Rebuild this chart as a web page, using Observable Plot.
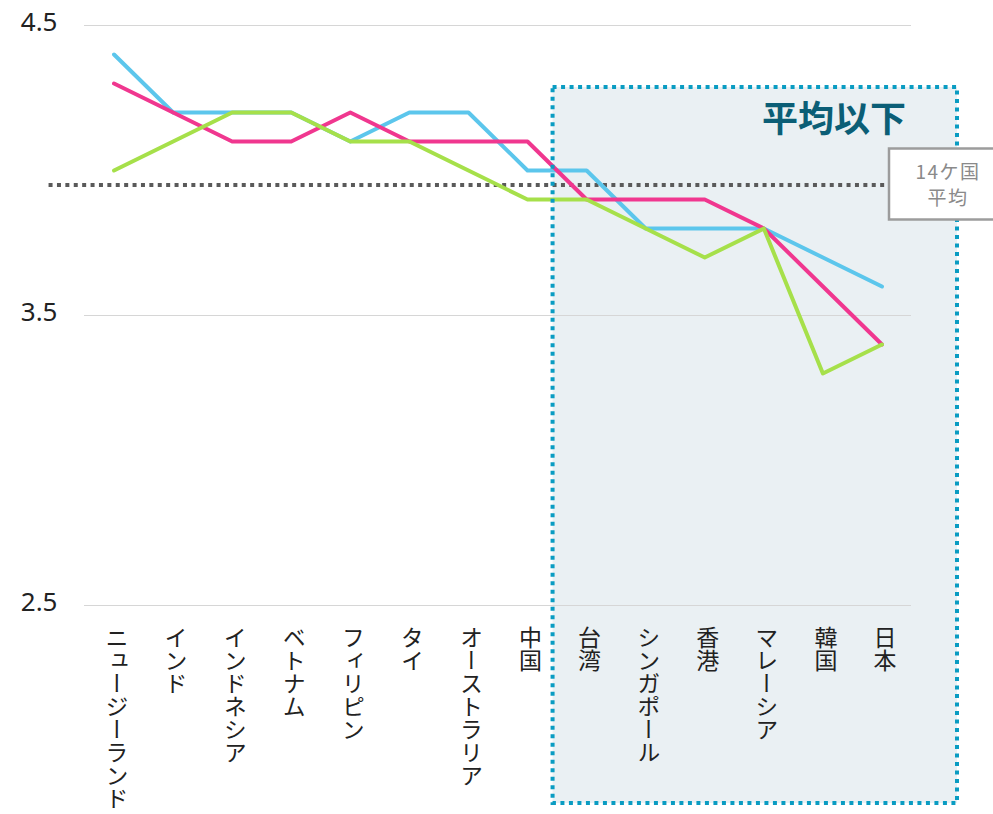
<!DOCTYPE html>
<html><head><meta charset="utf-8">
<script src="https://cdn.jsdelivr.net/npm/d3@7"></script>
<script src="https://cdn.jsdelivr.net/npm/@observablehq/plot@0.6"></script>
<style>
body{margin:0;background:#fff;font-family:"Noto Sans CJK JP","Noto Sans",sans-serif}
</style>
</head><body><div id="chart"></div>
<script>
const countries = ["ニュージーランド","インド","インドネシア","ベトナム","フィリピン","タイ","オーストラリア","中国","台湾","シンガポール","香港","マレーシア","韓国","日本"];
const seriesBlue  = [4.4,4.2,4.2,4.2,4.1,4.2,4.2,4.0,4.0,3.8,3.8,3.8,3.7,3.6];
const seriesPink  = [4.3,4.2,4.1,4.1,4.2,4.1,4.1,4.1,3.9,3.9,3.9,3.8,3.6,3.4];
const seriesGreen = [4.0,4.1,4.2,4.2,4.1,4.1,4.0,3.9,3.9,3.8,3.7,3.8,3.3,3.4];
const yTicks = [2.5,3.5,4.5];
const average = 3.95;
const averageLabel = ["14ケ国","平均"];
const highlightLabel = "平均以下";
const firstBelowIndex = 8; // 台湾

const colors = {blue:"#5cc6ec", pink:"#f0378f", green:"#a6e04a"};
const rows = (vals) => vals.map((v,i)=>({i, country:countries[i], value:v}));

const highlightBounds = (x, dims) => {
  const x0 = (x(firstBelowIndex-1) + x(firstBelowIndex)) / 2 - 4;
  const x1 = dims.width - 36;
  return [x0, x1];
};
const highlightFill = (index, {x}, values, dims) => {
  const g = d3.create("svg:g");
  const [x0, x1] = highlightBounds(x, dims);
  g.append("rect").attr("x", x0).attr("y", 87).attr("width", x1 - x0).attr("height", 803 - 87)
    .attr("fill", "#eaf0f3");
  return g.node();
};
const highlightBorder = (index, {x}, values, dims) => {
  const g = d3.create("svg:g");
  const [x0, x1] = highlightBounds(x, dims);
  g.append("rect").attr("x", x0).attr("y", 87).attr("width", x1 - x0).attr("height", 803 - 87)
    .attr("fill", "none").attr("stroke", "#0a9cc2").attr("stroke-width", 4).attr("stroke-dasharray", "4,4.5");
  g.append("text").attr("x", x1 - 51).attr("y", 116).attr("text-anchor", "end").attr("dominant-baseline","central")
    .attr("font-size", 36).attr("font-weight", "bold").attr("fill", "#0b5e76").text(highlightLabel);
  return g.node();
};
const averageBox = (index, {x, y}, values, dims) => {
  const g = d3.create("svg:g");
  const yy = y(average);
  g.append("rect").attr("x", 889).attr("y", yy - 36).attr("width", 130).attr("height", 71)
    .attr("fill", "#fff").attr("stroke", "#9c9c9c").attr("stroke-width", 2.5);
  averageLabel.forEach((t, k) => {
    g.append("text").attr("x", 948).attr("y", yy - 14 + k * 26).attr("text-anchor", "middle")
      .attr("dominant-baseline", "central").attr("font-size", 19).attr("letter-spacing", 1.5)
      .attr("fill", "#8a8a8a").text(t);
  });
  return g.node();
};

const chart = Plot.plot({
  width: 993, height: 814,
  marginLeft: 84, marginRight: 82, marginTop: 25, marginBottom: 209,
  style: {fontFamily: '"Noto Sans CJK JP","Noto Sans",sans-serif', background: "#fff"},
  x: {type: "linear", domain: [-0.5, 13.5], axis: null},
  y: {domain: [2.5, 4.5], label: null},
  marks: [
    highlightFill,
    Plot.gridY(yTicks, {stroke: "#d6d6d6", strokeOpacity: 1, strokeWidth: 1}),
    Plot.axisY(yTicks, {tickSize: 0, tickPadding: 27, fontSize: 26, fill: "#222", dy: -3, label: null,
      fontFamily: '"Noto Sans","Noto Sans CJK JP",sans-serif', tickFormat: d => d.toFixed(1)}),
    Plot.ruleY([average], {x1: -1.1, x2: 13.2, stroke: "#5a5a5a", strokeWidth: 4, strokeDasharray: "4,4.4"}),
    Plot.line(rows(seriesBlue), {x: "i", y: "value", stroke: colors.blue, strokeWidth: 4}),
    Plot.line(rows(seriesPink), {x: "i", y: "value", stroke: colors.pink, strokeWidth: 4}),
    Plot.line(rows(seriesGreen), {x: "i", y: "value", stroke: colors.green, strokeWidth: 4}),
    highlightBorder,
    averageBox,
    Plot.text(countries, {
      x: (d, i) => i, frameAnchor: "bottom", dy: 20, dx: 3, text: d => d, textAnchor: "start",
      fontSize: 23, fill: "#222",
      render(index, scales, values, dims, ctx, next) {
        const g = next(index, scales, values, dims, ctx);
        d3.select(g).selectAll("text").attr("dy", null).style("writing-mode", "vertical-rl");
        return g;
      }
    })
  ]
});
document.getElementById("chart").appendChild(chart);
</script>
</body></html>
